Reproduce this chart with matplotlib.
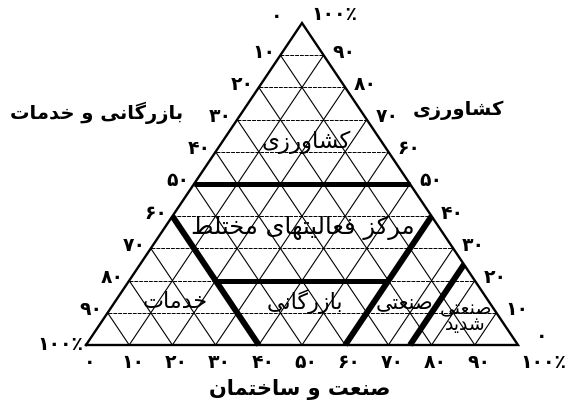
import matplotlib
matplotlib.use("Agg")
import matplotlib.pyplot as plt

# ---------------- data ----------------
tick_values = [0, 10, 20, 30, 40, 50, 60, 70, 80, 90, 100]
axis_left_title = "بازرگانی و خدمات"     # trade & services (bottom-left corner)
axis_right_title = "کشاورزی"             # agriculture (apex)
axis_bottom_title = "صنعت و ساختمان"     # industry & construction (bottom-right corner)

# thick class boundaries, each as two ternary points (agriculture %, industry %)
boundary_starts = [(50, 0), (40, 0), (40, 60), (25, 75), (20, 20)]
boundary_ends = [(50, 50), (0, 40), (0, 60), (0, 75), (20, 60)]

region_names = ["کشاورزی", "مرکز فعالیتهای مختلط", "خدمات", "بازرگانی", "صنعتی", "صنعتی\nشدید"]
region_agri = [63, 36.5, 13.4, 13.4, 13.4, 8.7]
region_ind = [19.5, 32, 14, 44, 67, 83.5]
region_sizes = [16.5, 17.5, 16, 16, 15, 13.5]

# ---------------- Arabic-script shaping (presentation forms, RTL) ----------------
FORMS = {
    "\u0627": ("\uFE8D", "\uFE8E", None, None),
    "\u0628": ("\uFE8F", "\uFE90", "\uFE91", "\uFE92"),
    "\u062A": ("\uFE95", "\uFE96", "\uFE97", "\uFE98"),
    "\u062E": ("\uFEA5", "\uFEA6", "\uFEA7", "\uFEA8"),
    "\u062F": ("\uFEA9", "\uFEAA", None, None),
    "\u0631": ("\uFEAD", "\uFEAE", None, None),
    "\u0632": ("\uFEAF", "\uFEB0", None, None),
    "\u0633": ("\uFEB1", "\uFEB2", "\uFEB3", "\uFEB4"),
    "\u0634": ("\uFEB5", "\uFEB6", "\uFEB7", "\uFEB8"),
    "\u0635": ("\uFEB9", "\uFEBA", "\uFEBB", "\uFEBC"),
    "\u0637": ("\uFEC1", "\uFEC2", "\uFEC3", "\uFEC4"),
    "\u0639": ("\uFEC9", "\uFECA", "\uFECB", "\uFECC"),
    "\u0641": ("\uFED1", "\uFED2", "\uFED3", "\uFED4"),
    "\u0644": ("\uFEDD", "\uFEDE", "\uFEDF", "\uFEE0"),
    "\u0645": ("\uFEE1", "\uFEE2", "\uFEE3", "\uFEE4"),
    "\u0646": ("\uFEE5", "\uFEE6", "\uFEE7", "\uFEE8"),
    "\u0647": ("\uFEE9", "\uFEEA", "\uFEEB", "\uFEEC"),
    "\u0648": ("\uFEED", "\uFEEE", None, None),
    "\u06CC": ("\uFBFC", "\uFBFD", "\uFBFE", "\uFBFF"),
    "\u06A9": ("\uFB8E", "\uFB8F", "\uFB90", "\uFB91"),
    "\u06AF": ("\uFB92", "\uFB93", "\uFB94", "\uFB95"),
}


def shape_line(text):
    out = []
    for i, c in enumerate(text):
        if c not in FORMS:
            out.append(c)
            continue
        prev = text[i - 1] if i > 0 else None
        nxt = text[i + 1] if i + 1 < len(text) else None
        jp = prev in FORMS and FORMS[prev][2] is not None
        jn = FORMS[c][2] is not None and nxt in FORMS
        iso, fin, ini, med = FORMS[c]
        out.append(med if (jp and jn) else fin if jp else ini if jn else iso)
    return "".join(reversed(out))


def shape(text):
    return "\n".join(shape_line(t) for t in text.split("\n"))


def fa_num(v, pct=False):
    s = "".join(chr(0x06F0 + int(d)) for d in str(v))
    return s + ("\u066A" if pct else "")


def tern(a, i):
    return i / 100 + a / 200, a / 100


# ---------------- figure ----------------
W, H = 573, 404
fig = plt.figure(figsize=(W / 100, H / 100), dpi=100)
fig.patch.set_facecolor("white")
ax = fig.add_axes([86 / W, (H - 345) / H, 432 / W, 322 / H])
ax.set_xlim(0, 1)
ax.set_ylim(0, 1)
ax.axis("off")

FONT = ["DejaVu Sans"]
TICK_FS = 13.5

# grid
for k in tick_values[1:-1]:
    p, q = tern(k, 0), tern(k, 100 - k)
    ax.plot([p[0], q[0]], [p[1], q[1]], color="black", lw=0.7, ls=(0, (4, 1)))
    p, q = tern(0, k), tern(100 - k, k)
    ax.plot([p[0], q[0]], [p[1], q[1]], color="black", lw=0.8)
    p, q = tern(0, 100 - k), tern(100 - k, 0)
    ax.plot([p[0], q[0]], [p[1], q[1]], color="black", lw=0.8)

# outline
corners = [tern(0, 0), tern(0, 100), tern(100, 0), tern(0, 0)]
ax.plot([c[0] for c in corners], [c[1] for c in corners], color="black", lw=1.7,
        solid_joinstyle="miter", clip_on=False)

# thick boundaries
for s, e in zip(boundary_starts, boundary_ends):
    p, q = tern(*s), tern(*e)
    lw = 3.6 if s[0] == e[0] else 4.3
    ax.plot([p[0], q[0]], [p[1], q[1]], color="black", lw=lw, solid_capstyle="butt", clip_on=False)


def tick(lab, pt, dx, dy, ha):
    ax.annotate(lab, pt, xytext=(dx, dy), textcoords="offset pixels", ha=ha, va="center",
                fontsize=TICK_FS, fontweight="bold", family=FONT, annotation_clip=False)


# tick labels
for v in tick_values:
    lab = fa_num(v, pct=(v == 100))
    # left axis (trade & services), 0 at top
    if 0 < v < 100:
        tick(lab, tern(100 - v, 0), -5, 3, "right")
    # right axis (agriculture), 100 at top
    if 0 < v < 100:
        tick(lab, tern(v, 100 - v), 9, 3, "left")
    # bottom axis (industry)
    if v < 100:
        tick(lab, tern(0, v), 4, -18, "center")
    else:
        tick(lab, tern(0, v), 2, -18, "left")

# corner labels
tick(fa_num(0), tern(100, 0), -20, 7, "right")            # left axis 0 at apex
tick(fa_num(100, pct=True), tern(100, 0), 9, 8, "left")   # right axis 100% at apex
tick(fa_num(100, pct=True), tern(0, 0), -3, 1, "right")   # left axis 100% at bottom-left
tick(fa_num(0), tern(0, 100), 18, 9, "left")              # right axis 0 at bottom-right

# region names
for name, a, i, fs in zip(region_names, region_agri, region_ind, region_sizes):
    x, y = tern(a, i)
    ax.text(x, y, shape(name), ha="center", va="center", fontsize=fs, family=FONT,
            linespacing=0.8)

# axis titles
fig.text(97 / W, 1 - 113 / H, shape(axis_left_title), ha="center", va="center",
         fontsize=14, fontweight="bold", family=FONT)
fig.text(458 / W, 1 - 110 / H, shape(axis_right_title), ha="center", va="center",
         fontsize=14, fontweight="bold", family=FONT)
fig.text(300 / W, 1 - 389 / H, shape(axis_bottom_title), ha="center", va="center",
         fontsize=15, fontweight="bold", family=FONT)

fig.savefig("out.png", dpi=100, facecolor="white")
